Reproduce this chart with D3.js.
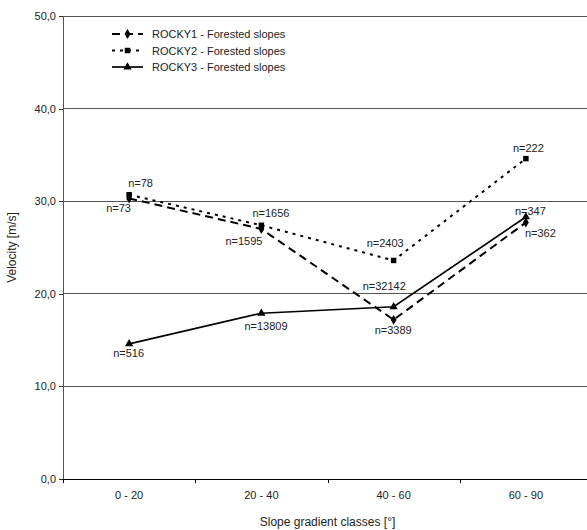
<!DOCTYPE html>
<html>
<head>
<meta charset="utf-8">
<script src="https://cdn.jsdelivr.net/npm/d3@7"></script>
<style>
  body { margin: 0; background: #fff; }
  svg { display: block; font-family: "Liberation Sans", Arial, sans-serif; }
</style>
</head>
<body>
<svg id="chart"></svg>
<script>
// data
var categories = ["0 - 20", "20 - 40", "40 - 60", "60 - 90"];
var seriesNames = ["ROCKY1 - Forested slopes", "ROCKY2 - Forested slopes", "ROCKY3 - Forested slopes"];
var rocky1 = [30.3, 27.0, 17.2, 27.7];
var rocky2 = [30.7, 27.4, 23.6, 34.6];
var rocky3 = [14.6, 17.9, 18.6, 28.3];
var rocky1N = ["n=73", "n=1595", "n=3389", "n=362"];
var rocky2N = ["n=78", "n=1656", "n=2403", "n=222"];
var rocky3N = ["n=516", "n=13809", "n=32142", "n=347"];
var yTicks = [0, 10, 20, 30, 40, 50];

// label offsets from the point (x, baseline)
var offs1 = [[-23, 14], [-36, 16], [-19, 14], [-1, 15]];
var offs2 = [[-1, -8], [-9, -8], [-27, -13], [-13, -7]];
var offs3 = [[-16, 13], [-17, 17], [-31, -17], [-11, -2]];

var width = 587, height = 530;
var svg = d3.select("#chart").attr("width", width).attr("height", height);

var x = d3.scaleBand().domain(categories).range([63, 592]);
var y = d3.scaleLinear().domain([0, 50]).range([479, 16]);

// gridlines
svg.append("g")
  .selectAll("line")
  .data(yTicks.slice(1))
  .enter().append("line")
    .attr("x1", 63).attr("x2", width)
    .attr("y1", function(d) { return y(d); })
    .attr("y2", function(d) { return y(d); })
    .attr("stroke", "#555")
    .attr("stroke-width", 1)
    .attr("shape-rendering", "crispEdges");

// y axis
var yAxis = svg.append("g")
  .attr("transform", "translate(63,0)")
  .call(d3.axisLeft(y).tickValues(yTicks).tickSize(4).tickPadding(3)
    .tickFormat(function(d) { return d3.format(".1f")(d).replace(".", ","); }));
yAxis.select(".domain").attr("stroke", "#555").attr("shape-rendering", "crispEdges");
yAxis.selectAll(".tick line").attr("stroke", "#333").attr("shape-rendering", "crispEdges");
yAxis.selectAll("text").style("font-size", "11px").attr("fill", "#222");

// x axis
var xAxis = svg.append("g")
  .attr("transform", "translate(0,479)")
  .call(d3.axisBottom(x).tickSize(0).tickPadding(12));
xAxis.select(".domain").remove();
xAxis.selectAll("text").style("font-size", "11px").attr("fill", "#222");
svg.append("line")
  .attr("x1", 63).attr("x2", width).attr("y1", 479).attr("y2", 479)
  .attr("stroke", "#000").attr("shape-rendering", "crispEdges");
svg.append("g")
  .selectAll("line")
  .data(categories)
  .enter().append("line")
    .attr("x1", function(d) { return Math.round(x(d)) + 0.5; })
    .attr("x2", function(d) { return Math.round(x(d)) + 0.5; })
    .attr("y1", 479).attr("y2", 483)
    .attr("stroke", "#000");

// axis titles
svg.append("text")
  .attr("transform", "translate(16," + ((16 + 479) / 2) + ") rotate(-90)")
  .attr("text-anchor", "middle")
  .style("font-size", "12px")
  .attr("fill", "#222")
  .text("Velocity [m/s]");
svg.append("text")
  .attr("x", (63 + 592) / 2).attr("y", 526)
  .attr("text-anchor", "middle")
  .style("font-size", "12px")
  .attr("fill", "#222")
  .text("Slope gradient classes [°]");

var cx = function(i) { return x(categories[i]) + x.bandwidth() / 2; };

var series = [
  { name: seriesNames[0], values: rocky1, labels: rocky1N, offs: offs1, dash: "8,5", width: 2, marker: d3.symbolDiamond, size: 30 },
  { name: seriesNames[1], values: rocky2, labels: rocky2N, offs: offs2, dash: "3,5", width: 2, marker: d3.symbolSquare, size: 30 },
  { name: seriesNames[2], values: rocky3, labels: rocky3N, offs: offs3, dash: null, width: 1.7, marker: d3.symbolTriangle, size: 30 }
];

var line = d3.line()
  .x(function(d, i) { return cx(i); })
  .y(function(d) { return y(d); });

series.forEach(function(s) {
  svg.append("path")
    .datum(s.values)
    .attr("d", line)
    .attr("fill", "none")
    .attr("stroke", "#000")
    .attr("stroke-width", s.width)
    .attr("stroke-dasharray", s.dash);

  svg.append("g")
    .selectAll("path")
    .data(s.values)
    .enter().append("path")
      .attr("d", d3.symbol().type(s.marker).size(s.size))
      .attr("transform", function(d, i) { return "translate(" + cx(i) + "," + y(d) + ")"; })
      .attr("fill", "#000");

  svg.append("g")
    .selectAll("text")
    .data(s.values)
    .enter().append("text")
      .attr("x", function(d, i) { return cx(i) + s.offs[i][0]; })
      .attr("y", function(d, i) { return y(d) + s.offs[i][1]; })
      .style("font-size", "11px")
      .attr("fill", "#222")
      .text(function(d, i) { return s.labels[i]; });
});

// legend
var legend = svg.append("g")
  .selectAll("g")
  .data(series)
  .enter().append("g")
    .attr("transform", function(d, i) { return "translate(112," + (34 + i * 16.5) + ")"; });
legend.append("line")
  .attr("x1", 0).attr("x2", 31).attr("y1", 0).attr("y2", 0)
  .attr("stroke", "#000")
  .attr("stroke-width", function(d) { return d.width; })
  .attr("stroke-dasharray", function(d) { return d.dash; });
legend.append("path")
  .attr("d", function(d) { return d3.symbol().type(d.marker).size(d.size)(); })
  .attr("transform", "translate(15.5,0)")
  .attr("fill", "#000");
legend.append("text")
  .attr("x", 40).attr("y", 4)
  .style("font-size", "11px")
  .attr("fill", "#222")
  .text(function(d) { return d.name; });
</script>
</body>
</html>
